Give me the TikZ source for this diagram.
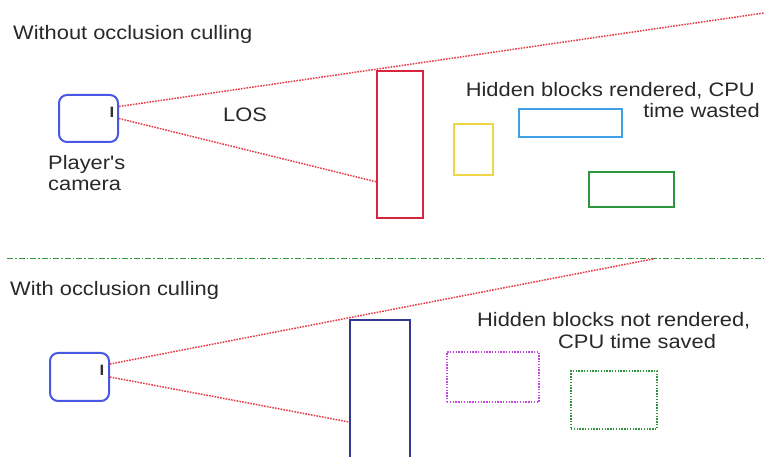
\documentclass[tikz,border=0pt]{standalone}
\usepackage{fontspec}
\setmainfont{Liberation Sans}[FakeStretch=1.12, Ligatures=TeXOff]
\usetikzlibrary{calc}

\definecolor{camblue}{RGB}{72,88,228}
\definecolor{wallred}{RGB}{216,36,60}
\definecolor{losred}{RGB}{232,60,72}
\definecolor{blkyellow}{RGB}{240,214,70}
\definecolor{blkcyan}{RGB}{64,160,230}
\definecolor{blkgreen}{RGB}{46,150,60}
\definecolor{walldark}{RGB}{48,56,144}
\definecolor{blkmagenta}{RGB}{196,72,224}
\definecolor{sepgreen}{RGB}{56,150,64}
\definecolor{txt}{RGB}{40,40,40}

\begin{document}
\begin{tikzpicture}[x=1pt,y=-1pt,
  lbl/.style={font=\fontsize{19.5}{22}\selectfont, text=txt, inner sep=0pt},
  camera/.style={draw=camblue, line width=2, rounded corners=8, inner sep=0pt},
  camtick/.style={font=\fontsize{15}{15}\selectfont\bfseries, text=black!80, inner sep=0pt},
  solidblock/.style={draw=#1, line width=2, inner sep=0pt},
  dotblock/.style={draw=#1, line width=1.6, dash pattern=on 1.4 off 1.4, inner sep=0pt},
  los/.style={draw=losred, line width=1.5, dash pattern=on 1.6 off 1.2}]

\useasboundingbox (0,0) rectangle (764,457);
\fill[white] (0,0) rectangle (764,457);
\clip (0,0) rectangle (764,457);

% ---------- upper panel: no culling ----------
\node[lbl, anchor=base west] (title1) at (13,40) {Without occlusion culling};

\node[camera, minimum width=59, minimum height=47] (cam1) at (88.5,118.5) {};
\node[camtick] (tick1) at (112,112.5) {I};
\node[lbl, anchor=base west] (player) at (48,170) {Player's};
\node[lbl, anchor=base west] (camlbl) at (48,190.5) {camera};
\node[lbl, anchor=base west] (los) at (223,122) {LOS};

\node[solidblock=wallred, minimum width=46, minimum height=147] (wall1) at (400,144.5) {};
\node[solidblock=blkyellow, minimum width=39, minimum height=51] (yel) at (473.5,149.5) {};
\node[solidblock=blkcyan, minimum width=103, minimum height=28] (cyan) at (570.5,123) {};
\node[solidblock=blkgreen, minimum width=85, minimum height=35] (grn) at (631.5,189.5) {};

\node[lbl, anchor=base east] (hid1a) at (755,97) {Hidden blocks rendered, CPU};
\node[lbl, anchor=base east] (hid1b) at (760,118) {time wasted};

\coordinate (far1) at (764,13);
\draw[los] ($(cam1.east)+(0,-12)$) -- (far1);
\draw[los] (cam1.east) -- ($(wall1.north west)!0.75!(wall1.south west)$);

% ---------- separator ----------
\coordinate (sepL) at (7,258.5);
\coordinate (sepR) at (764,258.5);
\draw[sepgreen, line width=1.5, dash pattern=on 6 off 2 on 1.5 off 2] (sepL) -- (sepR);

% ---------- lower panel: with culling ----------
\node[lbl, anchor=base west] (title2) at (10,296) {With occlusion culling};

\node[camera, minimum width=59, minimum height=48] (cam2) at (79.5,377) {};
\node[camtick] (tick2) at (102,370) {I};

\node[solidblock=walldark, minimum width=60, minimum height=150] (wall2) at (380,395) {};
\node[dotblock=blkmagenta, minimum width=92, minimum height=50] (mag) at (493,377) {};
\node[dotblock=blkgreen, minimum width=86, minimum height=58] (grn2) at (614,400) {};

\node[lbl, anchor=base west] (hid2a) at (477,327) {Hidden blocks not rendered,};
\node[lbl, anchor=base west] (hid2b) at (558,349) {CPU time saved};

\coordinate (far2) at (653,259);
\draw[los] ($(cam2.east)+(0,-13)$) -- (far2);
\draw[los] (cam2.east) -- ($(wall2.north west)+(0,103)$);

\end{tikzpicture}
\end{document}
